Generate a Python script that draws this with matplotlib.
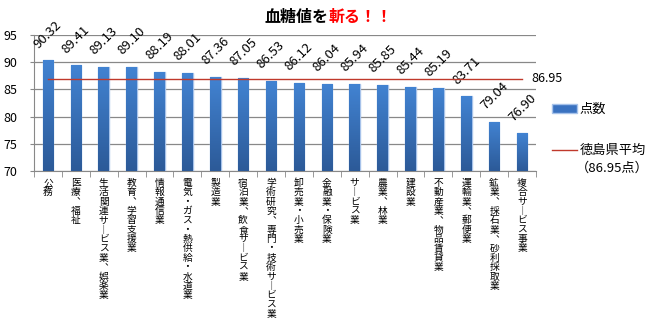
import numpy as np
import matplotlib
matplotlib.use("Agg")
import matplotlib.pyplot as plt
from matplotlib.colors import LinearSegmentedColormap

plt.rcParams['font.family'] = ['Noto Sans CJK JP', 'DejaVu Sans']

# ---- data ----
categories = ["公務", "医療、福祉", "生活関連サービス業、娯楽業", "教育、学習支援業",
              "情報通信業", "電気・ガス・熱供給・水道業", "製造業", "宿泊業、飲食サービス業",
              "学術研究、専門・技術サービス業", "卸売業・小売業", "金融業・保険業",
              "サービス業", "農業、林業", "建設業", "不動産業、物品賃貸業",
              "運輸業、郵便業", "鉱業、採石業、砂利採取業", "複合サービス事業"]
scores = [90.32, 89.41, 89.13, 89.10, 88.19, 88.01, 87.36, 87.05, 86.53,
          86.12, 86.04, 85.94, 85.85, 85.44, 85.19, 83.71, 79.04, 76.90]
pref_avg = 86.95
yticks = [70, 75, 80, 85, 90, 95]

# vertical writing: use vertical presentation forms for ー and 、
VERT = {"ー": "\ufe31", "、": "\ufe11"}

def vertical(s):
    return "\n".join(VERT.get(c, c) for c in s)

fig = plt.figure(figsize=(6.51, 3.28), dpi=100)
ax = fig.add_axes([34/651, 1-171/328, 502/651, 136/328])

x = np.arange(len(categories))
bars = ax.bar(x, scores, width=0.38, color="#3A72C0", edgecolor="#A6C2EA",
              linewidth=1.0, zorder=3)

# vertical gradient inside each bar
cmap = LinearSegmentedColormap.from_list("g", ["#2C5A98", "#4283D2"])
grad = np.linspace(0, 1, 100).reshape(-1, 1)
for b in bars:
    im = ax.imshow(grad, cmap=cmap, origin="lower", aspect="auto",
                   extent=[b.get_x(), b.get_x() + b.get_width(), 70, b.get_height()],
                   zorder=3.5)
    im.set_clip_path(b)

line, = ax.plot(x, [pref_avg] * len(x), color="#C0392B", lw=1.0, zorder=4)
ax.annotate(f"{pref_avg:.2f}", (x[-1], pref_avg), xytext=(7, 0),
            textcoords="offset points", va="center", ha="left", fontsize=9)

for xi, v in zip(x, scores):
    ax.annotate(f"{v:.2f}", (xi, v), xytext=(0, 7), textcoords="offset points",
                rotation=45, ha="center", va="bottom", fontsize=9.5)

ax.set_xlim(-0.5, len(x) - 0.5)
ax.set_ylim(70, 95)
ax.set_yticks(yticks)
ax.tick_params(axis="y", labelsize=9, length=3, color="#888888", pad=9)
ax.yaxis.grid(True, color="#888888", lw=0.9, zorder=0)
ax.set_axisbelow(True)

ax.set_xticks(x)
ax.set_xticklabels([vertical(c) for c in categories], fontsize=7,
                   linespacing=0.92, va="top")
ax.tick_params(axis="x", which="major", length=0, pad=5)
ax.set_xticks(np.arange(-0.5, len(x)), minor=True)
ax.tick_params(axis="x", which="minor", length=4, color="#888888")

for s in ["top", "right"]:
    ax.spines[s].set_visible(False)
for s in ["left", "bottom"]:
    ax.spines[s].set_color("#888888")

# title: two colours
fig.text(0.504, 1-17/328, "血糖値を", ha="right", va="center", fontsize=11.5,
         fontweight="bold", color="black")
fig.text(0.504, 1-17/328, "斬る！！", ha="left", va="center", fontsize=11.5,
         fontweight="bold", color="red")

fig.legend(handles=[bars, line], labels=["点数", "徳島県平均"],
           loc="upper left", bbox_to_anchor=(540/651, 1-91/328), frameon=False,
           fontsize=9.5, labelspacing=2.15, handlelength=1.9, handletextpad=0.2)
fig.text(576/651, 1-168/328, "（86.95点）", ha="left", va="center", fontsize=9.5)

fig.savefig("out.png", dpi=100)
